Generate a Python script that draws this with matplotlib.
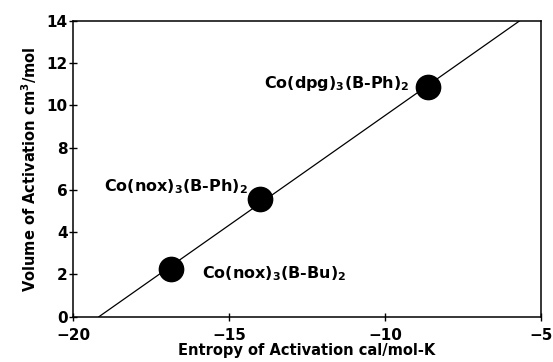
import numpy as np
import matplotlib
matplotlib.use("Agg")
import matplotlib.pyplot as plt

plt.rcParams['font.family'] = ['DejaVu Sans']
plt.rcParams['font.weight'] = 'bold'
plt.rcParams['axes.labelweight'] = 'bold'
plt.rcParams['mathtext.fontset'] = 'custom'
plt.rcParams['mathtext.rm'] = 'DejaVu Sans:bold'
plt.rcParams['mathtext.default'] = 'rm'

# entropy (cal/mol-K) vs volume of activation (cm3/mol)
entropy = [-16.87, -14.0, -8.63]
volume = [2.25, 5.58, 10.87]
labels = ["Co(nox)$_3$(B-Bu)$_2$", "Co(nox)$_3$(B-Ph)$_2$", "Co(dpg)$_3$(B-Ph)$_2$"]

slope, icpt = np.polyfit(entropy, volume, 1)
x_line = np.array([-icpt / slope, (14 - icpt) / slope])
y_line = slope * x_line + icpt

fig = plt.figure(figsize=(5.53, 3.62), dpi=100)
ax = fig.add_axes([0.132, 0.125, 0.846, 0.817])
ax.plot(x_line, y_line, color='black', lw=0.9)
ax.plot(entropy, volume, 'o', color='black', markersize=17.5)

ax.text(-15.85, 2.05, labels[0], ha='left', va='center', fontsize=11.5)
ax.text(-14.4, 6.15, labels[1], ha='right', va='center', fontsize=11.5)
ax.text(-9.2, 11.05, labels[2], ha='right', va='center', fontsize=11.5)

ax.set_xlim(-20, -5)
ax.set_ylim(0, 14)
ax.set_xticks([-20, -15, -10, -5])
ax.set_yticks(range(0, 15, 2))
ax.tick_params(direction='inout', length=6, width=1, labelsize=11)
ax.tick_params(axis='x', pad=5)
ax.tick_params(axis='y', pad=1)
for sp in ax.spines.values():
    sp.set_linewidth(1.1)
ax.set_xlabel("Entropy of Activation cal/mol-K", fontsize=10.5, labelpad=0)
ax.set_ylabel("Volume of Activation cm$^3$/mol", fontsize=10.5, labelpad=5)

plt.savefig("out.png")
